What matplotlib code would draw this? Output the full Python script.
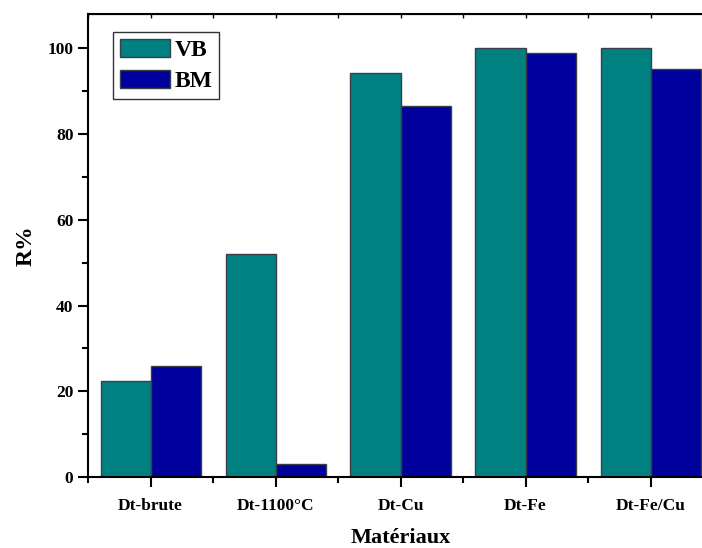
import matplotlib.pyplot as plt
import numpy as np

plt.rcParams["font.family"] = ["Liberation Serif", "DejaVu Serif"]
plt.rcParams["font.weight"] = "bold"

categories = ["Dt-brute", "Dt-1100°C", "Dt-Cu", "Dt-Fe", "Dt-Fe/Cu"]
vb = [22.3, 52.1, 94.2, 100.0, 100.0]
bm = [26.0, 3.1, 86.6, 99.0, 95.1]

fig = plt.figure(figsize=(7.02, 5.48), dpi=100)
ax = fig.add_axes([88 / 702, 71 / 548, 625 / 702, 463 / 548])

x = np.arange(1, len(categories) + 1)
w = 0.4
ax.bar(x - w / 2, vb, w, color="#008080", edgecolor="#3a3f4a", linewidth=1, label="VB")
ax.bar(x + w / 2, bm, w, color="#00009c", edgecolor="#3a3f4a", linewidth=1, label="BM")

ax.set_xlim(0.5, 5.5)
ax.set_ylim(0, 108)
ax.set_xticks(x)
ax.set_xticklabels(categories)
ax.set_xticks(np.arange(0.5, 6, 1), minor=True)
ax.set_yticks(np.arange(0, 101, 20))
ax.set_yticks(np.arange(10, 101, 20), minor=True)

ax.tick_params(axis="both", which="major", direction="out", length=7, width=1.5, labelsize=12.5)
ax.tick_params(axis="both", which="minor", direction="out", length=4, width=1.5)
ax.tick_params(axis="x", which="major", pad=8)
for t in ax.get_xticklabels() + ax.get_yticklabels():
    t.set_fontweight("bold")

# petits traits sur l'axe du haut
top = ax.secondary_xaxis("top")
top.set_xticks(np.arange(0.5, 6, 0.5))
top.tick_params(direction="in", length=3, width=1, labeltop=False)
top.set_xticklabels([])

for s in ax.spines.values():
    s.set_linewidth(1.5)

ax.set_xlabel("Matériaux", fontsize=16, fontweight="bold", labelpad=10)
ax.set_ylabel("R%", fontsize=17, fontweight="bold", labelpad=8)

leg = ax.legend(loc="upper left", bbox_to_anchor=(0.04, 0.961), fontsize=17, fancybox=False,
                edgecolor="#333333", handlelength=2.1, handleheight=0.8, borderpad=0.3,
                labelspacing=0.35, handletextpad=0.2, borderaxespad=0, framealpha=1)
leg.get_frame().set_linewidth(1)

fig.savefig("out.png", dpi=100)
